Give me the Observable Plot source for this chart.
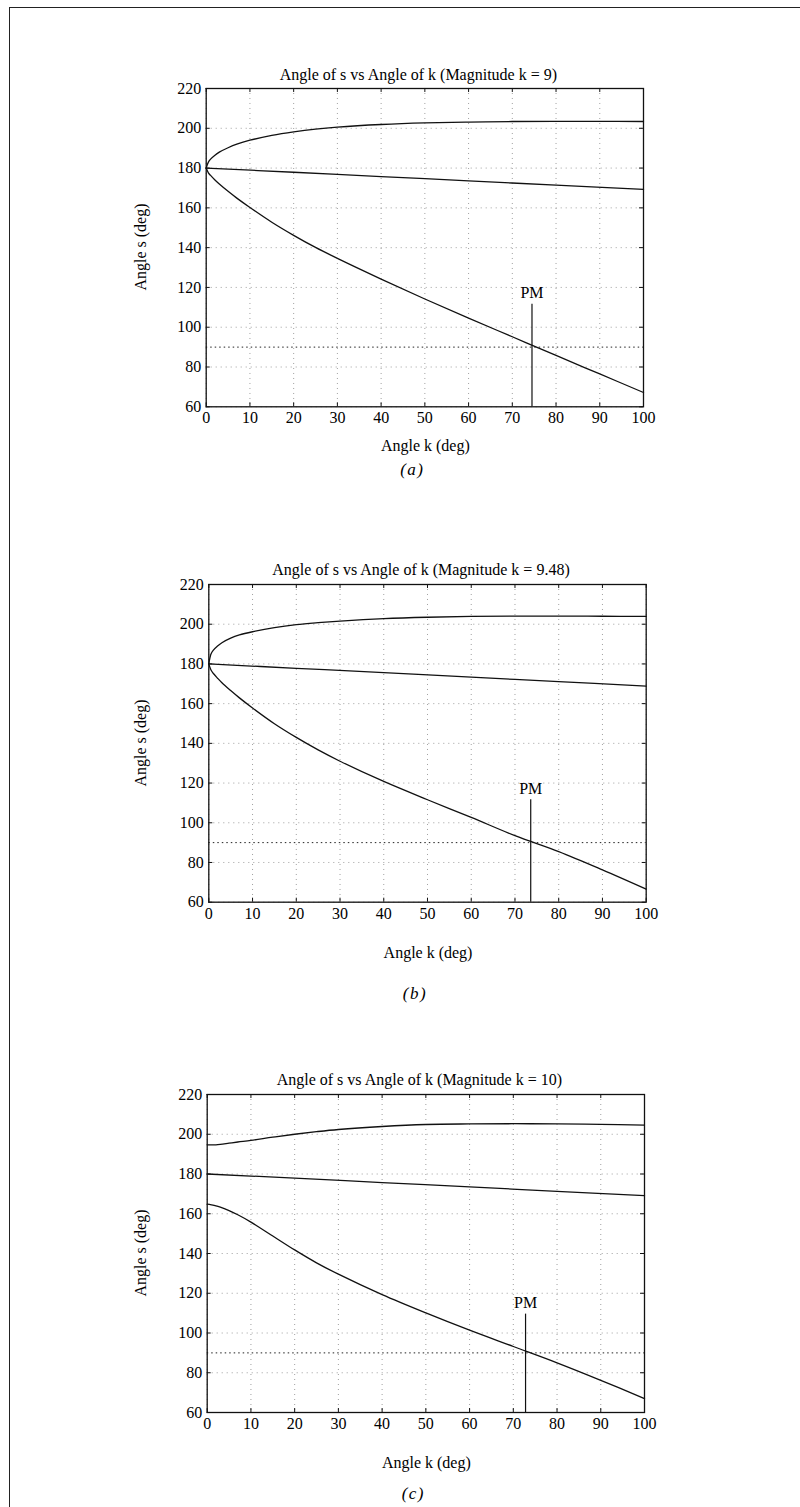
<!DOCTYPE html>
<html><head><meta charset="utf-8">
<script src="https://cdn.jsdelivr.net/npm/d3@7"></script>
<script src="https://cdn.jsdelivr.net/npm/@observablehq/plot@0.6"></script>
<style>
body{margin:0;background:#fff;width:800px;height:1507px;position:relative;overflow:hidden;font-family:"Liberation Serif","Times New Roman",serif;color:#000}
.abs{position:absolute;white-space:nowrap}
.t{font-size:16px;transform:translate(-50%,-50%)}
.cap{font-size:17px;font-style:italic;letter-spacing:1.5px;transform:translate(-50%,-50%)}
.yl{font-size:16px;transform:translate(-50%,-50%) rotate(-90deg)}
.pane{position:absolute;left:0}
</style></head><body>
<div class="abs" style="left:10px;top:7px;width:790px;height:0;border-top:1.5px solid #222"></div>
<div class="abs" style="left:9px;top:7px;width:0;height:1500px;border-left:1.5px solid #222"></div>
<script>
// ---- data ----
const magnitudes = ["9", "9.48", "10"];
const panelTags = ["(a)", "(b)", "(c)"];
const xTicks = [0, 10, 20, 30, 40, 50, 60, 70, 80, 90, 100];
const yTicks = [60, 80, 100, 120, 140, 160, 180, 200, 220];
const pmLevel = 90;
const pmAngleK = [74.5, 73.6, 72.8];
const pmLineTop = [111.5, 111.6, 109.5];

const kGrid = [0, 0.5, 1, 2, 3, 5, 7, 10, 15, 20, 25, 30, 40, 50, 60, 70, 80, 90, 100];
const kMid = [0, 20, 40, 60, 80, 100];

const upperA = [180, 183, 184.5, 186.5, 188, 190.2, 192, 194, 196.4, 198.2, 199.6, 200.6, 201.9, 202.7, 203.1, 203.4, 203.5, 203.5, 203.4];
const middleA = [180, 177.9, 175.7, 173.6, 171.4, 169.3];
const lowerA = [180, 177.6, 176.3, 174.0, 172.0, 168.3, 164.9, 160.2, 152.8, 146.2, 140.1, 134.6, 124.2, 114.2, 104.6, 95.2, 85.8, 76.5, 67.2];

const upperB = [180, 185, 186.8, 189, 190.7, 193, 194.6, 196.2, 198.3, 199.8, 200.8, 201.6, 202.8, 203.5, 203.9, 204.1, 204.1, 204.0, 203.9];
const middleB = [180, 177.8, 175.6, 173.3, 171.1, 168.8];
const lowerB = [180, 176.9, 175.3, 172.8, 170.5, 166.6, 162.9, 157.8, 149.9, 143, 136.7, 131, 120.8, 111.6, 102.7, 93.5, 85.5, 76.3, 66.6];

const upperC = [194.7, 194.7, 194.7, 194.7, 194.9, 195.5, 196.1, 196.9, 198.5, 200, 201.3, 202.4, 203.9, 204.9, 205.2, 205.3, 205.2, 205.0, 204.6];
const middleC = [180, 177.9, 175.7, 173.5, 171.3, 169.1];
const lowerC = [164.8, 164.7, 164.5, 164.0, 163.3, 161.6, 159.5, 155.8, 148.8, 141.8, 135.3, 129.6, 119.3, 110.1, 101.4, 93.2, 85, 76.2, 67];

const series = [[upperA, middleA, lowerA], [upperB, middleB, lowerB], [upperC, middleC, lowerC]];

// ---- layout (pixels) ----
const layout = [
  {left: 205.7, right: 643, top: 87.7, bottom: 406, titleY: 75, xlabY: 445.5, capY: 470},
  {left: 208.3, right: 645.7, top: 584, bottom: 901.7, titleY: 570, xlabY: 953, capY: 994},
  {left: 206.7, right: 644, top: 1093.7, bottom: 1411.7, titleY: 1080, xlabY: 1463, capY: 1494}
];

function addText(cls, x, y, txt) {
  const d = document.createElement("div");
  d.className = "abs " + cls;
  d.style.left = x + "px"; d.style.top = y + "px";
  d.textContent = txt;
  document.body.appendChild(d);
}

layout.forEach((L, i) => {
  const mt = 10, mb = 30;
  const fh = L.bottom - L.top, fw = L.right - L.left;
  const [up, mid, low] = series[i];
  const lineOpts = {stroke: "#111", strokeWidth: 1.3, curve: "catmull-rom"};
  const gridOpts = {stroke: "#888", strokeOpacity: 1, strokeWidth: 0.8, strokeDasharray: "1,4"};
  const chart = Plot.plot({
    width: 800, height: fh + mt + mb,
    marginLeft: L.left, marginRight: 800 - L.right, marginTop: mt, marginBottom: mb,
    x: {domain: [0, 100], label: null},
    y: {domain: [60, 220], label: null},
    style: {fontFamily: "'Liberation Serif', serif", fontSize: "16px", color: "#000", background: "transparent", overflow: "visible"},
    marks: [
      Plot.gridX(xTicks, gridOpts),
      Plot.gridY(yTicks, gridOpts),
      Plot.ruleY([pmLevel], {stroke: "#222", strokeWidth: 1, strokeDasharray: "1.5,3"}),
      Plot.ruleX(xTicks, {stroke: "#111", insetTop: fh - 4}),
      Plot.ruleX(xTicks, {stroke: "#111", insetBottom: fh - 4}),
      Plot.ruleY(yTicks, {stroke: "#111", insetRight: fw - 4}),
      Plot.ruleY(yTicks, {stroke: "#111", insetLeft: fw - 4}),
      Plot.line(kGrid.map((k, j) => ({k, s: up[j]})), {x: "k", y: "s", ...lineOpts}),
      Plot.line(kMid.map((k, j) => ({k, s: mid[j]})), {x: "k", y: "s", ...lineOpts}),
      Plot.line(kGrid.map((k, j) => ({k, s: low[j]})), {x: "k", y: "s", ...lineOpts}),
      Plot.ruleX([pmAngleK[i]], {y1: 60, y2: pmLineTop[i], stroke: "#111", strokeWidth: 1.2}),
      Plot.text([pmAngleK[i]], {x: d => d, y: pmLineTop[i], text: () => "PM", dy: -11, fontSize: 16, fill: "#000"}),
      Plot.frame({stroke: "#111", strokeWidth: 1.3}),
      Plot.axisX(xTicks, {tickSize: 0, tickPadding: 5, label: null}),
      Plot.axisY(yTicks, {tickSize: 0, tickPadding: 5, label: null})
    ]
  });
  const wrap = document.createElement("div");
  wrap.className = "pane";
  wrap.style.top = (L.top - mt) + "px";
  wrap.appendChild(chart);
  document.body.appendChild(wrap);
  const cx = (L.left + L.right) / 2;
  addText("t", cx - 6, L.titleY, `Angle of s vs Angle of k (Magnitude k = ${magnitudes[i]})`);
  addText("yl", 141, (L.top + L.bottom) / 2, "Angle s (deg)");
  addText("t", cx + 1, L.xlabY, "Angle k (deg)");
  addText("cap", cx - 12, L.capY, panelTags[i]);
});
</script>
</body></html>
